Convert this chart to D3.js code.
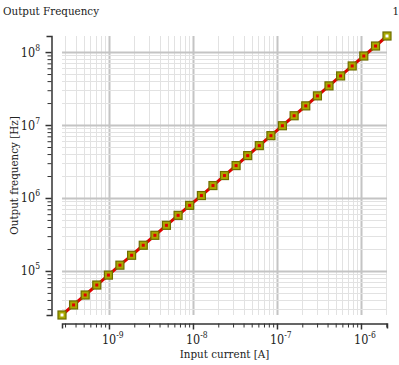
<!DOCTYPE html>
<html>
<head>
<meta charset="utf-8">
<script src="https://cdn.jsdelivr.net/npm/d3@7"></script>
<style>
  body { margin: 0; background: #fff; }
  svg text { font-family: "DejaVu Serif Condensed", "DejaVu Serif", serif; font-stretch: condensed; fill: #222; }
</style>
</head>
<body>
<div id="chart"></div>
<script>
// input current [A]
var current = [2.76e-10, 3.79e-10, 5.21e-10, 7.16e-10, 9.85e-10, 1.35e-9, 1.86e-9, 2.56e-9,
  3.52e-9, 4.83e-9, 6.65e-9, 9.13e-9, 1.26e-8, 1.73e-8, 2.37e-8, 3.26e-8, 4.48e-8, 6.16e-8,
  8.47e-8, 1.16e-7, 1.60e-7, 2.20e-7, 3.03e-7, 4.16e-7, 5.72e-7, 7.86e-7, 1.08e-6, 1.49e-6, 2.04e-6];
// output frequency [Hz]
var frequency = [2.49e4, 3.42e4, 4.68e4, 6.41e4, 8.77e4, 1.20e5, 1.64e5, 2.25e5, 3.08e5,
  4.22e5, 5.78e5, 7.92e5, 1.08e6, 1.48e6, 2.03e6, 2.78e6, 3.81e6, 5.22e6, 7.15e6, 9.78e6,
  1.34e7, 1.83e7, 2.51e7, 3.44e7, 4.71e7, 6.45e7, 8.83e7, 1.21e8, 1.66e8];

var title = "Output Frequency",
    pageLabel = "1",
    xTitle = "Input current [A]",
    yTitle = "Output frequency [Hz]";

var W = 399, H = 365
    , p = {left: 62, right: 387, top: 36, bottom: 315}
    , yAxisX = 51.5
    , xAxisY = 323.5;

var data = current.map(function(c, i) { return {x: c, y: frequency[i]}; });

var svg = d3.select("#chart").append("svg")
    .attr("width", W)
    .attr("height", H);

var x = d3.scaleLog().domain(d3.extent(current)).range([p.left, p.right]);
var y = d3.scaleLog().domain(d3.extent(frequency)).range([p.bottom, p.top]);

function isMajor(v) { return Math.abs(Math.log10(v) - Math.round(Math.log10(v))) < 1e-6; }

var xTicks = x.ticks(), yTicks = y.ticks();

//Grid
var grid = svg.append("g").attr("class", "grid");
grid.selectAll(".vx").data(xTicks).enter().append("line")
    .attr("x1", function(d) { return Math.round(x(d)) + 0.5; })
    .attr("x2", function(d) { return Math.round(x(d)) + 0.5; })
    .attr("y1", p.top).attr("y2", p.bottom)
    .attr("stroke", function(d) { return isMajor(d) ? "#c4c4c4" : "#e2e2e2"; })
    .attr("stroke-width", function(d) { return isMajor(d) ? 2 : 1; });
grid.selectAll(".hy").data(yTicks).enter().append("line")
    .attr("y1", function(d) { return Math.round(y(d)) + 0.5; })
    .attr("y2", function(d) { return Math.round(y(d)) + 0.5; })
    .attr("x1", p.left).attr("x2", p.right)
    .attr("stroke", function(d) { return isMajor(d) ? "#c4c4c4" : "#e2e2e2"; })
    .attr("stroke-width", function(d) { return isMajor(d) ? 2 : 1; });

//Axes (detached from the plot area)
var xAxis = d3.axisBottom(x).tickValues(xTicks).tickSizeOuter(0).tickFormat("")
    .tickSize(5);
var gx = svg.append("g")
    .attr("transform", "translate(0," + xAxisY + ")")
    .call(xAxis);
var yAxis = d3.axisLeft(y).tickValues(yTicks).tickSizeOuter(0).tickFormat("")
    .tickSize(5);
var gy = svg.append("g")
    .attr("transform", "translate(" + yAxisX + ",0)")
    .call(yAxis);

[gx, gy].forEach(function(g) {
    g.select(".domain").attr("stroke", "#333").attr("stroke-width", 1.5);
    g.selectAll(".tick line").attr("stroke", "#333")
        .attr("stroke-width", function(d) { return isMajor(d) ? 1.5 : 1; });
});
gx.selectAll(".tick line").attr("y2", function(d) { return isMajor(d) ? 6 : 4; });
gy.selectAll(".tick line").attr("x2", function(d) { return isMajor(d) ? -6 : -4; });

// decade labels
var xLab = svg.append("g").selectAll("text").data(xTicks.filter(isMajor)).enter().append("text")
    .attr("x", function(d) { return x(d) - 7; })
    .attr("y", 343.5)
    .style("font-size", "12.5px");
xLab.append("tspan").text("10");
xLab.append("tspan").attr("dy", -6).style("font-size", "8.5px")
    .text(function(d) { return Math.round(Math.log10(d)); });

var yLab = svg.append("g").selectAll("text").data(yTicks.filter(isMajor)).enter().append("text")
    .attr("x", 40)
    .attr("y", function(d) { return y(d) + 4.5; })
    .attr("text-anchor", "end")
    .style("font-size", "12.5px");
yLab.append("tspan").text("10");
yLab.append("tspan").attr("dy", -6).style("font-size", "8.5px")
    .text(function(d) { return Math.round(Math.log10(d)); });

//Series
var line = d3.line().x(function(d) { return x(d.x); }).y(function(d) { return y(d.y); });
svg.append("path")
    .datum(data)
    .attr("d", line)
    .attr("fill", "none")
    .attr("stroke", "#e00000")
    .attr("stroke-width", 3);

var pts = svg.append("g").selectAll("g").data(data).enter().append("g")
    .attr("transform", function(d) { return "translate(" + x(d.x) + "," + y(d.y) + ")"; });
pts.append("rect")
    .attr("x", -4).attr("y", -4).attr("width", 8).attr("height", 8)
    .attr("fill", "#a8a800")
    .attr("stroke", "#6e6e00")
    .attr("stroke-width", 1.2);
pts.append("rect")
    .attr("x", -1.5).attr("y", -1.5).attr("width", 3).attr("height", 3)
    .attr("fill", function(d, i) { return (i == 0 || i == data.length - 1) ? "#fff" : "#e00000"; });

//Texts
svg.append("text").attr("x", 3).attr("y", 15).style("font-size", "11.5px").text(title);
svg.append("text").attr("x", 399).attr("y", 15).attr("text-anchor", "end")
    .style("font-size", "11.5px").text(pageLabel);
svg.append("text")
    .attr("x", (p.left + p.right) / 2).attr("y", 357.5)
    .attr("text-anchor", "middle")
    .style("font-size", "11.5px")
    .text(xTitle);
svg.append("text")
    .attr("transform", "translate(18," + ((p.top + p.bottom) / 2) + ") rotate(-90)")
    .attr("text-anchor", "middle")
    .style("font-size", "11.5px")
    .text(yTitle);
</script>
</body>
</html>
